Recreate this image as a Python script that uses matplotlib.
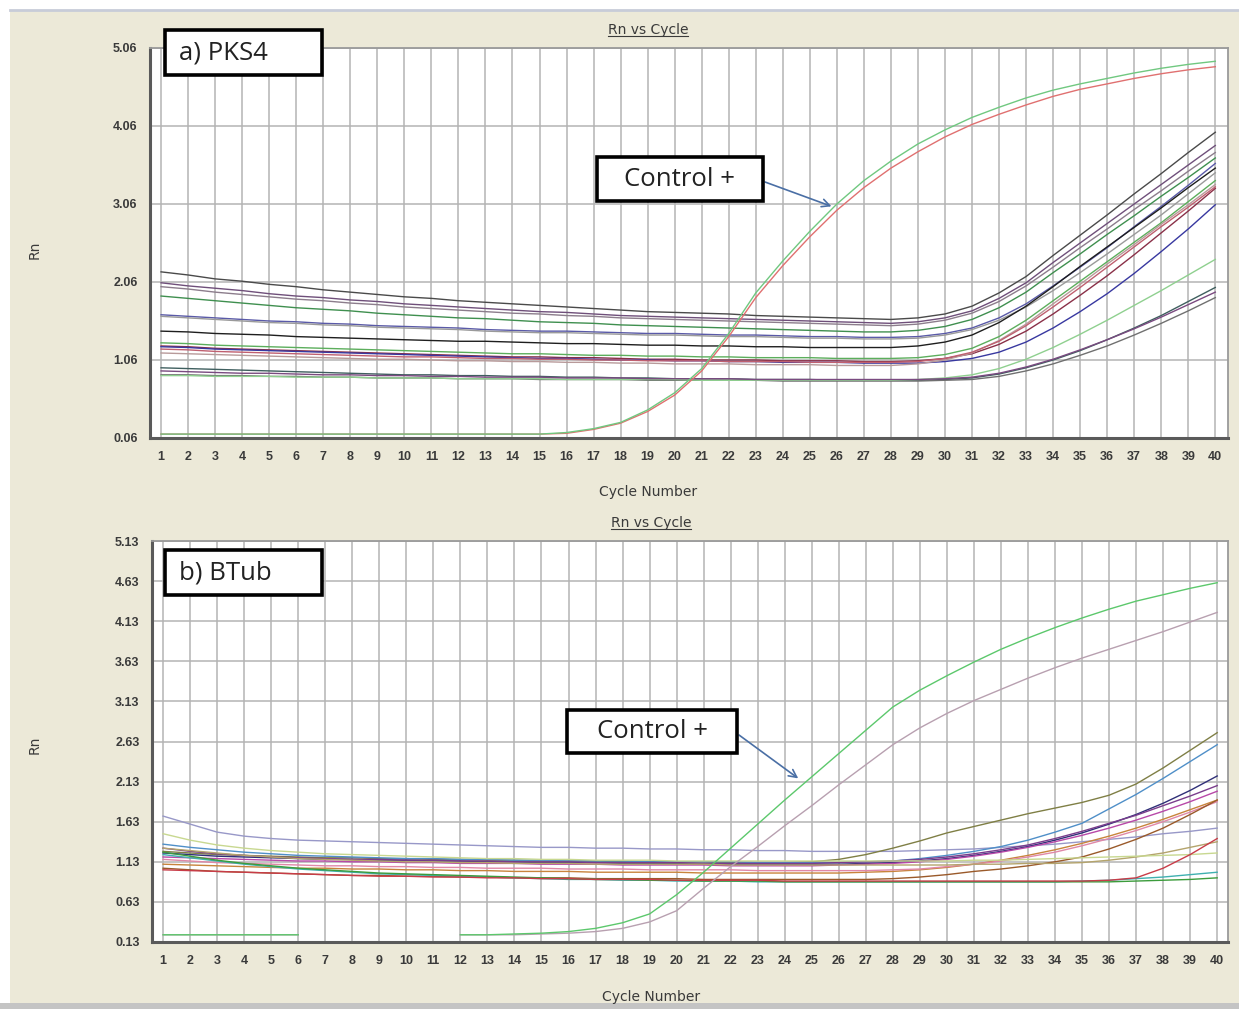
import matplotlib
matplotlib.use("Agg")
import matplotlib.pyplot as plt
from matplotlib.patches import Rectangle
from matplotlib.lines import Line2D

nan = float("nan")
cycles = list(range(1, 41))

# ---------------- PKS4 run ----------------
pks4_yticks = [0.06, 1.06, 2.06, 3.06, 4.06, 5.06]

pks4_ctrl_green = [0.11] * 15 + [0.13, 0.18, 0.26, 0.42, 0.64, 0.95, 1.40, 1.92, 2.33, 2.71,
                                 3.06, 3.36, 3.61, 3.83, 4.01, 4.17, 4.30, 4.42, 4.52, 4.60,
                                 4.67, 4.74, 4.80, 4.85, 4.89]
pks4_ctrl_red = [0.11] * 15 + [0.12, 0.17, 0.25, 0.40, 0.61, 0.92, 1.36, 1.86, 2.27, 2.64,
                               2.98, 3.27, 3.52, 3.73, 3.92, 4.08, 4.21, 4.33, 4.44, 4.53,
                               4.60, 4.67, 4.73, 4.78, 4.82]

pks4_s01 = [2.19, 2.15, 2.10, 2.07, 2.03, 2.00, 1.96, 1.93, 1.90, 1.87, 1.85, 1.82, 1.80, 1.78, 1.76, 1.74, 1.72, 1.70, 1.68, 1.67,
            1.66, 1.65, 1.63, 1.62, 1.61, 1.60, 1.59, 1.58, 1.60, 1.65, 1.75, 1.92, 2.13, 2.40, 2.66, 2.92, 3.19, 3.45, 3.72, 3.98]
pks4_s02 = [2.05, 2.01, 1.98, 1.95, 1.91, 1.88, 1.86, 1.83, 1.81, 1.78, 1.76, 1.74, 1.72, 1.70, 1.68, 1.67, 1.65, 1.63, 1.62, 1.61,
            1.60, 1.59, 1.58, 1.57, 1.56, 1.55, 1.54, 1.53, 1.55, 1.60, 1.69, 1.85, 2.05, 2.31, 2.56, 2.81, 3.06, 3.31, 3.56, 3.81]
pks4_s03 = [2.00, 1.97, 1.93, 1.90, 1.87, 1.84, 1.82, 1.79, 1.77, 1.74, 1.72, 1.70, 1.68, 1.66, 1.65, 1.63, 1.62, 1.60, 1.59, 1.58,
            1.57, 1.56, 1.55, 1.54, 1.53, 1.52, 1.51, 1.50, 1.52, 1.57, 1.66, 1.81, 2.01, 2.25, 2.50, 2.74, 2.99, 3.23, 3.48, 3.72]
pks4_s04 = [1.88, 1.85, 1.82, 1.79, 1.76, 1.73, 1.71, 1.69, 1.66, 1.64, 1.62, 1.60, 1.59, 1.57, 1.55, 1.54, 1.53, 1.51, 1.50, 1.49,
            1.48, 1.47, 1.46, 1.45, 1.44, 1.43, 1.42, 1.42, 1.44, 1.49, 1.58, 1.73, 1.93, 2.18, 2.42, 2.67, 2.91, 3.16, 3.40, 3.65]
pks4_s05 = [1.64, 1.62, 1.60, 1.58, 1.56, 1.55, 1.53, 1.52, 1.50, 1.49, 1.48, 1.47, 1.45, 1.44, 1.43, 1.43, 1.42, 1.41, 1.40, 1.40,
            1.39, 1.38, 1.38, 1.37, 1.36, 1.36, 1.35, 1.35, 1.36, 1.40, 1.47, 1.60, 1.78, 2.01, 2.25, 2.50, 2.77, 3.03, 3.30, 3.58]
pks4_s06 = [1.62, 1.60, 1.58, 1.56, 1.54, 1.53, 1.51, 1.50, 1.48, 1.47, 1.46, 1.45, 1.43, 1.42, 1.41, 1.41, 1.40, 1.39, 1.38, 1.38,
            1.37, 1.36, 1.36, 1.35, 1.34, 1.34, 1.33, 1.33, 1.34, 1.38, 1.45, 1.57, 1.74, 1.95, 2.18, 2.42, 2.67, 2.92, 3.19, 3.46]
pks4_s07 = [1.43, 1.42, 1.40, 1.39, 1.38, 1.36, 1.35, 1.34, 1.33, 1.32, 1.31, 1.30, 1.30, 1.29, 1.28, 1.27, 1.27, 1.26, 1.25, 1.25,
            1.24, 1.24, 1.23, 1.23, 1.22, 1.22, 1.22, 1.22, 1.24, 1.29, 1.38, 1.54, 1.75, 2.00, 2.26, 2.51, 2.76, 3.01, 3.27, 3.52]
pks4_s08 = [1.28, 1.27, 1.25, 1.24, 1.23, 1.22, 1.21, 1.20, 1.19, 1.18, 1.17, 1.16, 1.15, 1.14, 1.14, 1.13, 1.12, 1.12, 1.11, 1.11,
            1.10, 1.10, 1.09, 1.09, 1.09, 1.08, 1.08, 1.08, 1.09, 1.13, 1.21, 1.36, 1.57, 1.82, 2.07, 2.32, 2.57, 2.82, 3.09, 3.36]
pks4_s09 = [1.24, 1.23, 1.21, 1.20, 1.19, 1.18, 1.17, 1.16, 1.15, 1.14, 1.13, 1.12, 1.11, 1.10, 1.10, 1.09, 1.09, 1.08, 1.07, 1.07,
            1.06, 1.06, 1.06, 1.05, 1.05, 1.05, 1.04, 1.04, 1.05, 1.08, 1.14, 1.26, 1.43, 1.65, 1.89, 2.14, 2.41, 2.69, 2.97, 3.26]
pks4_s10 = [1.23, 1.22, 1.20, 1.19, 1.18, 1.17, 1.16, 1.15, 1.14, 1.13, 1.12, 1.11, 1.10, 1.09, 1.08, 1.08, 1.07, 1.06, 1.06, 1.05,
            1.05, 1.04, 1.04, 1.03, 1.03, 1.03, 1.02, 1.02, 1.02, 1.04, 1.08, 1.16, 1.29, 1.47, 1.68, 1.91, 2.17, 2.45, 2.74, 3.05]
pks4_s11 = [1.15, 1.14, 1.13, 1.12, 1.11, 1.10, 1.09, 1.08, 1.07, 1.07, 1.06, 1.05, 1.05, 1.04, 1.04, 1.03, 1.03, 1.02, 1.02, 1.01,
            1.01, 1.01, 1.00, 1.00, 1.00, 0.99, 0.99, 0.99, 1.01, 1.06, 1.15, 1.31, 1.52, 1.78, 2.03, 2.29, 2.54, 2.80, 3.05, 3.31]
pks4_s12 = [0.96, 0.95, 0.94, 0.93, 0.92, 0.91, 0.90, 0.89, 0.88, 0.87, 0.87, 0.86, 0.86, 0.85, 0.85, 0.84, 0.84, 0.83, 0.83, 0.82,
            0.82, 0.82, 0.81, 0.81, 0.81, 0.80, 0.80, 0.80, 0.80, 0.81, 0.83, 0.88, 0.96, 1.06, 1.18, 1.32, 1.47, 1.63, 1.81, 1.99]
pks4_s13 = [0.87, 0.87, 0.86, 0.86, 0.85, 0.85, 0.84, 0.84, 0.83, 0.83, 0.83, 0.82, 0.82, 0.82, 0.81, 0.81, 0.81, 0.81, 0.80, 0.80,
            0.80, 0.80, 0.80, 0.79, 0.79, 0.79, 0.79, 0.79, 0.79, 0.80, 0.81, 0.85, 0.92, 1.01, 1.12, 1.24, 1.38, 1.53, 1.69, 1.86]
pks4_s14 = [0.86, 0.86, 0.85, 0.85, 0.85, 0.84, 0.84, 0.84, 0.83, 0.83, 0.83, 0.82, 0.82, 0.82, 0.82, 0.81, 0.81, 0.81, 0.81, 0.81,
            0.80, 0.80, 0.80, 0.80, 0.80, 0.80, 0.80, 0.80, 0.81, 0.83, 0.87, 0.95, 1.07, 1.22, 1.39, 1.57, 1.76, 1.95, 2.15, 2.35]
pks4_s15 = [0.92, 0.91, 0.90, 0.89, 0.89, 0.88, 0.87, 0.87, 0.86, 0.86, 0.85, 0.85, 0.84, 0.84, 0.84, 0.83, 0.83, 0.83, 0.82, 0.82,
            0.82, 0.82, 0.81, 0.81, 0.81, 0.81, 0.81, 0.81, 0.81, 0.82, 0.84, 0.89, 0.97, 1.07, 1.19, 1.32, 1.46, 1.61, 1.77, 1.93]
pks4_s16 = [1.20, 1.19, 1.17, 1.16, 1.15, 1.14, 1.13, 1.12, 1.11, 1.10, 1.10, 1.09, 1.08, 1.08, 1.07, 1.07, 1.06, 1.06, 1.05, 1.05,
            1.05, 1.04, 1.04, 1.04, 1.03, 1.03, 1.03, 1.03, 1.04, 1.08, 1.16, 1.30, 1.50, 1.74, 1.99, 2.25, 2.51, 2.77, 3.02, 3.28]

# ---------------- BTub run ----------------
btub_yticks = [0.13, 0.63, 1.13, 1.63, 2.13, 2.63, 3.13, 3.63, 4.13, 4.63, 5.13]

btub_ctrl_green = [0.22] * 6 + [nan] * 5 + [0.22, 0.22, 0.23, 0.24, 0.26, 0.30, 0.37, 0.48, 0.72, 1.00,
                                            1.30, 1.60, 1.90, 2.19, 2.48, 2.77, 3.06, 3.27, 3.45, 3.62,
                                            3.78, 3.92, 4.05, 4.17, 4.28, 4.38, 4.46, 4.54, 4.61]
btub_ctrl_mauve = [0.22] * 6 + [nan] * 5 + [0.22, 0.22, 0.22, 0.23, 0.24, 0.26, 0.30, 0.38, 0.52, 0.80,
                                            1.07, 1.32, 1.58, 1.83, 2.09, 2.34, 2.59, 2.80, 2.98, 3.14,
                                            3.28, 3.42, 3.55, 3.67, 3.78, 3.89, 4.00, 4.12, 4.24]

btub_s01 = [1.70, 1.60, 1.50, 1.45, 1.42, 1.40, 1.39, 1.38, 1.37, 1.36, 1.35, 1.34, 1.33, 1.32, 1.31, 1.31, 1.30, 1.30, 1.29, 1.29,
            1.28, 1.28, 1.27, 1.27, 1.26, 1.26, 1.26, 1.26, 1.27, 1.28, 1.29, 1.31, 1.33, 1.35, 1.38, 1.41, 1.44, 1.48, 1.51, 1.55]
btub_s02 = [1.26, 1.24, 1.22, 1.21, 1.20, 1.19, 1.18, 1.18, 1.17, 1.17, 1.16, 1.16, 1.15, 1.15, 1.14, 1.14, 1.14, 1.13, 1.13, 1.13,
            1.13, 1.12, 1.12, 1.12, 1.13, 1.16, 1.22, 1.30, 1.39, 1.49, 1.57, 1.65, 1.73, 1.80, 1.87, 1.96, 2.10, 2.30, 2.52, 2.74]
btub_s03 = [1.35, 1.31, 1.28, 1.25, 1.23, 1.21, 1.20, 1.19, 1.18, 1.17, 1.17, 1.16, 1.16, 1.15, 1.15, 1.14, 1.14, 1.14, 1.13, 1.13,
            1.13, 1.13, 1.12, 1.12, 1.12, 1.12, 1.13, 1.14, 1.17, 1.21, 1.26, 1.32, 1.40, 1.50, 1.61, 1.79, 1.97, 2.17, 2.38, 2.59]
btub_s04 = [1.24, 1.22, 1.20, 1.19, 1.18, 1.17, 1.16, 1.16, 1.15, 1.15, 1.14, 1.14, 1.13, 1.13, 1.12, 1.12, 1.12, 1.11, 1.11, 1.11,
            1.10, 1.10, 1.10, 1.10, 1.10, 1.10, 1.11, 1.12, 1.14, 1.17, 1.21, 1.26, 1.32, 1.40, 1.49, 1.60, 1.72, 1.86, 2.02, 2.20]
btub_s05 = [1.30, 1.26, 1.23, 1.21, 1.19, 1.18, 1.17, 1.16, 1.16, 1.15, 1.15, 1.14, 1.14, 1.13, 1.13, 1.13, 1.12, 1.12, 1.12, 1.12,
            1.11, 1.11, 1.11, 1.11, 1.11, 1.12, 1.13, 1.14, 1.16, 1.19, 1.23, 1.28, 1.34, 1.42, 1.51, 1.61, 1.71, 1.83, 1.95, 2.08]
btub_s06 = [1.19, 1.18, 1.17, 1.16, 1.15, 1.14, 1.14, 1.13, 1.13, 1.12, 1.12, 1.11, 1.11, 1.11, 1.10, 1.10, 1.10, 1.09, 1.09, 1.09,
            1.09, 1.08, 1.08, 1.08, 1.08, 1.09, 1.10, 1.11, 1.13, 1.16, 1.20, 1.25, 1.31, 1.38, 1.46, 1.55, 1.65, 1.76, 1.88, 2.01]
btub_s07 = [1.10, 1.09, 1.08, 1.07, 1.06, 1.05, 1.05, 1.04, 1.04, 1.03, 1.03, 1.02, 1.02, 1.01, 1.01, 1.01, 1.00, 1.00, 1.00, 1.00,
            0.99, 0.99, 0.99, 0.99, 0.99, 0.99, 1.00, 1.01, 1.03, 1.06, 1.10, 1.15, 1.21, 1.28, 1.36, 1.45, 1.55, 1.66, 1.78, 1.90]
btub_s08 = [1.16, 1.14, 1.12, 1.11, 1.10, 1.09, 1.08, 1.08, 1.07, 1.07, 1.06, 1.06, 1.05, 1.05, 1.05, 1.04, 1.04, 1.04, 1.03, 1.03,
            1.03, 1.03, 1.02, 1.02, 1.02, 1.02, 1.02, 1.03, 1.04, 1.07, 1.10, 1.14, 1.19, 1.25, 1.33, 1.42, 1.52, 1.63, 1.75, 1.88]
btub_s09 = [1.05, 1.03, 1.01, 1.00, 0.99, 0.98, 0.97, 0.96, 0.96, 0.95, 0.95, 0.94, 0.94, 0.93, 0.93, 0.93, 0.92, 0.92, 0.92, 0.92,
            0.91, 0.91, 0.91, 0.91, 0.91, 0.91, 0.91, 0.92, 0.94, 0.97, 1.01, 1.04, 1.08, 1.13, 1.19, 1.29, 1.41, 1.55, 1.72, 1.90]
btub_s10 = [1.30, 1.27, 1.24, 1.21, 1.19, 1.17, 1.16, 1.15, 1.14, 1.13, 1.13, 1.12, 1.12, 1.11, 1.11, 1.11, 1.10, 1.10, 1.10, 1.10,
            1.10, 1.09, 1.09, 1.09, 1.09, 1.09, 1.09, 1.09, 1.09, 1.09, 1.10, 1.10, 1.11, 1.11, 1.12, 1.15, 1.19, 1.24, 1.31, 1.38]
btub_s11 = [1.48, 1.40, 1.34, 1.30, 1.27, 1.25, 1.23, 1.22, 1.21, 1.20, 1.19, 1.18, 1.17, 1.17, 1.16, 1.16, 1.15, 1.15, 1.15, 1.14,
            1.14, 1.14, 1.14, 1.14, 1.14, 1.14, 1.14, 1.14, 1.14, 1.14, 1.15, 1.15, 1.16, 1.17, 1.18, 1.19, 1.20, 1.21, 1.22, 1.24]
btub_s12 = [1.22, 1.18, 1.14, 1.10, 1.07, 1.04, 1.02, 1.00, 0.98, 0.97, 0.96, 0.95, 0.94, 0.93, 0.92, 0.91, 0.91, 0.90, 0.90, 0.89,
            0.89, 0.89, 0.88, 0.88, 0.88, 0.88, 0.88, 0.88, 0.88, 0.88, 0.88, 0.88, 0.88, 0.88, 0.89, 0.90, 0.92, 0.94, 0.97, 1.00]
btub_s13 = [1.25, 1.20, 1.15, 1.11, 1.08, 1.05, 1.03, 1.01, 0.99, 0.98, 0.97, 0.96, 0.95, 0.94, 0.93, 0.92, 0.91, 0.91, 0.90, 0.90,
            0.89, 0.89, 0.89, 0.88, 0.88, 0.88, 0.88, 0.88, 0.88, 0.88, 0.88, 0.88, 0.88, 0.88, 0.88, 0.88, 0.89, 0.90, 0.91, 0.93]
btub_s14 = [1.03, 1.02, 1.01, 1.00, 0.99, 0.98, 0.97, 0.96, 0.95, 0.95, 0.94, 0.94, 0.93, 0.93, 0.92, 0.92, 0.91, 0.91, 0.91, 0.90,
            0.90, 0.90, 0.90, 0.89, 0.89, 0.89, 0.89, 0.89, 0.89, 0.89, 0.89, 0.89, 0.89, 0.89, 0.89, 0.90, 0.93, 1.05, 1.22, 1.42]

# ---------------- styling ----------------
pks4_samples = [pks4_s01, pks4_s02, pks4_s03, pks4_s04, pks4_s05, pks4_s06, pks4_s07, pks4_s08,
                pks4_s09, pks4_s10, pks4_s11, pks4_s12, pks4_s13, pks4_s14, pks4_s15, pks4_s16]
pks4_colors = ["#4a4a4a", "#6f4f7a", "#8c7d8c", "#3f8f4f", "#5a5aa8", "#9a9a9a", "#1e1e1e", "#5cae5c",
               "#8a3048", "#3838a0", "#b89a9a", "#3f5f5f", "#707070", "#8fd08f", "#7a4a80", "#c06070"]
btub_samples = [btub_s01, btub_s02, btub_s03, btub_s04, btub_s05, btub_s06, btub_s07,
                btub_s08, btub_s09, btub_s10, btub_s11, btub_s12, btub_s13, btub_s14]
btub_colors = ["#9898c8", "#7f7f45", "#4f8fc8", "#303078", "#7a3d8c", "#b848a8", "#c8843c",
               "#e088a8", "#9a5a2a", "#b4a46c", "#c8d890", "#40b0b0", "#3c9c3c", "#c83c48"]

W, H = 1239, 1009
BEIGE = "#ECE9D8"
TXT = "#3a3a3a"


def fx(px):
    return px / W


def fy(py):
    return 1 - py / H


fig = plt.figure(figsize=(W / 100, H / 100), dpi=100)
fig.patch.set_facecolor("white")

# window panels behind each chart
fig.add_artist(Rectangle((fx(10), fy(508)), fx(1239) - fx(10), fy(10) - fy(508),
                         transform=fig.transFigure, facecolor=BEIGE, edgecolor="none", zorder=-10))
fig.add_artist(Rectangle((fx(10), fy(1003)), fx(1239) - fx(10), fy(508) - fy(1003),
                         transform=fig.transFigure, facecolor=BEIGE, edgecolor="none", zorder=-10))
fig.add_artist(Rectangle((0, 0), 1, fy(1003), transform=fig.transFigure,
                         facecolor="#c4c4c4", edgecolor="none", zorder=-9))
fig.add_artist(Line2D([fx(10), 1], [fy(10), fy(10)], transform=fig.transFigure,
                      color="#c8ccd8", lw=2, zorder=-8))


def make_axes(box, yticks, samples, colors, controls, xlim):
    left, top, right, bottom = box
    ax = fig.add_axes([fx(left), fy(bottom), fx(right) - fx(left), fy(top) - fy(bottom)])
    ax.set_facecolor("white")
    ax.set_xlim(*xlim)
    ax.set_ylim(yticks[0], yticks[-1])
    ax.set_xticks(cycles)
    ax.set_xticklabels([str(c) for c in cycles])
    ax.set_yticks(yticks)
    ax.set_yticklabels([f"{v:.2f}" for v in yticks])
    ax.grid(True, color="#b4b4b4", lw=1.1)
    ax.set_axisbelow(True)
    ax.tick_params(length=0, labelsize=9, labelcolor=TXT)
    ax.tick_params(axis="x", pad=9)
    ax.tick_params(axis="y", pad=9)
    for lab in ax.get_xticklabels() + ax.get_yticklabels():
        lab.set_fontfamily("Liberation Sans")
        lab.set_fontweight("bold")
    for side in ("left", "bottom"):
        ax.spines[side].set_color("#5a5a5a")
        ax.spines[side].set_linewidth(2.2)
    for side in ("top", "right"):
        ax.spines[side].set_color("#9a9a9a")
        ax.spines[side].set_linewidth(1.3)
    for vals, col in zip(samples, colors):
        ax.plot(cycles, vals, color=col, lw=1.0, zorder=3)
    for vals, col in controls:
        ax.plot(cycles, vals, color=col, lw=1.0, zorder=4)
    return ax


ax1 = make_axes((150, 48, 1228, 438), pks4_yticks, pks4_samples, pks4_colors,
                [(pks4_ctrl_red, "#e07070"), (pks4_ctrl_green, "#70c880")], (0.59, 40.47))
ax2 = make_axes((152, 541, 1228, 942), btub_yticks, btub_samples, btub_colors,
                [(btub_ctrl_mauve, "#b8a0b0"), (btub_ctrl_green, "#5cc86c")], (0.59, 40.40))

# axis titles and labels
titles = []
for cx, ty, lx, ly, ry in [(648, 30, 648, 492, 250), (651, 523, 651, 997, 745)]:
    t = fig.text(fx(cx), fy(ty), "Rn vs Cycle", ha="center", va="center",
                 fontsize=10, color=TXT, family="DejaVu Sans")
    titles.append(t)
    fig.text(fx(lx), fy(ly), "Cycle Number", ha="center", va="center",
             fontsize=10, color=TXT, family="DejaVu Sans")
    fig.text(fx(35), fy(ry), "Rn", ha="center", va="center", rotation=90,
             fontsize=10, color=TXT, family="DejaVu Sans")


def label_box(x0, y0, x1, y1, text, tx=None):
    fig.add_artist(Rectangle((fx(x0), fy(y1)), fx(x1) - fx(x0), fy(y0) - fy(y1),
                             transform=fig.transFigure, facecolor="white",
                             edgecolor="black", lw=2.6, zorder=20))
    if tx is None:
        fig.text(fx((x0 + x1) / 2), fy((y0 + y1) / 2), text, ha="center", va="center",
                 fontsize=18.5, color="#222222", family="Open Sans", zorder=21)
    else:
        fig.text(fx(tx), fy((y0 + y1) / 2), text, ha="left", va="center",
                 fontsize=18.5, color="#222222", family="Open Sans", zorder=21)


label_box(165, 30, 322, 75, "a) PKS4", tx=179)
label_box(165, 550, 322, 595, "b) BTub", tx=179)
label_box(597, 157, 763, 201, "Control +")
label_box(567, 710, 737, 753, "Control +")

arrow = dict(arrowstyle="->", color="#4a6fa5", lw=1.2, shrinkA=0, shrinkB=0, mutation_scale=14)
ax1.annotate("", xy=(25.8, 3.03), xycoords="data",
             xytext=(fx(765), fy(182)), textcoords="figure fraction", arrowprops=arrow, zorder=22)
ax2.annotate("", xy=(24.5, 2.17), xycoords="data",
             xytext=(fx(739), fy(735)), textcoords="figure fraction", arrowprops=arrow, zorder=22)

# underline the chart titles
fig.canvas.draw()
inv = fig.transFigure.inverted()
for t in titles:
    bb = t.get_window_extent()
    (ux0, uy), (ux1, _) = inv.transform([(bb.x0, bb.y0 + 1), (bb.x1, bb.y0 + 1)])
    fig.add_artist(Line2D([ux0, ux1], [uy, uy], transform=fig.transFigure, color=TXT, lw=0.8))

fig.savefig("out.png", dpi=100)
